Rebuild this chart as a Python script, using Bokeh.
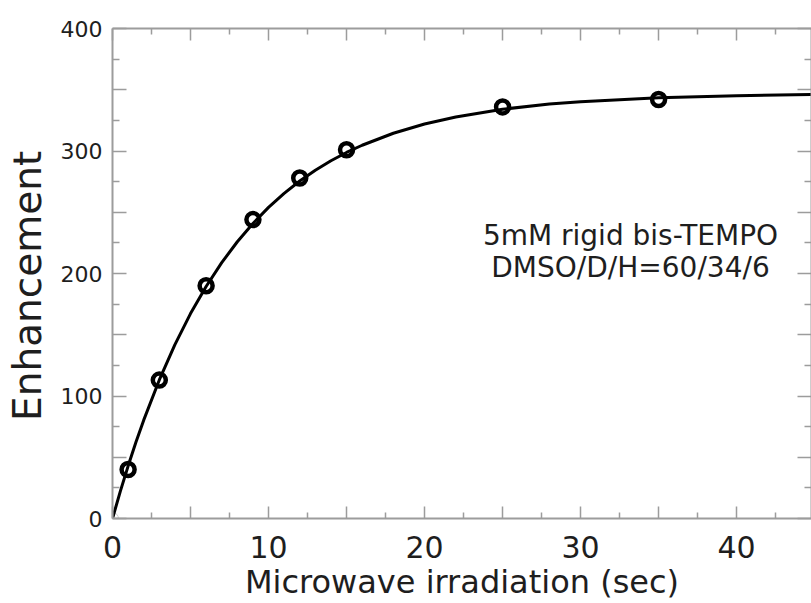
from bokeh.plotting import figure
from bokeh.models import FixedTicker, LinearAxis, Range1d, Label, CustomJSTickFormatter
from bokeh.embed import file_html
from bokeh.resources import INLINE

# Measured enhancement vs. microwave irradiation time
time_s = [1, 3, 6, 9, 12, 15, 25, 35]
enhancement = [40, 113, 190, 244, 278, 301, 336, 342]

fit_time = [0, 0.5, 1, 1.5, 2, 3, 4, 5, 6, 7, 8, 9, 10, 11, 12, 13, 14, 15,
            16, 18, 20, 22, 25, 28, 30, 35, 40, 45]
fit_enh = [0, 22.1, 42.8, 62.2, 80.3, 113.1, 141.9, 167.3, 189.4, 208.9, 225.9,
           240.8, 254.0, 265.4, 275.5, 284.3, 292.0, 298.8, 304.7, 314.5, 322.0,
           327.8, 334.1, 338.3, 340.3, 343.5, 345.2, 346.1]

x_major = [0, 5, 10, 15, 20, 25, 30, 35, 40, 45]
x_minor = [2.5, 7.5, 12.5, 17.5, 22.5, 27.5, 32.5, 37.5, 42.5]
y_major = [0, 50, 100, 150, 200, 250, 300, 350, 400]
y_minor = [25, 75, 125, 175, 225, 275, 325, 375]

sample_lines = ["5mM rigid bis-TEMPO", "DMSO/D/H=60/34/6"]

FONT = "DejaVu Sans"
TEXT = "#1e1e1e"
AXIS = "#9c9c9c"

p = figure(frame_width=699, frame_height=490, x_range=Range1d(0, 44.8), y_range=Range1d(0, 400),
           output_backend="svg", toolbar_location=None,
           min_border_left=112, min_border_top=28, min_border_right=0, min_border_bottom=85)
p.grid.visible = False
p.outline_line_color = None
p.background_fill_color = "white"
p.border_fill_color = "white"


def style(ax, ticker, long_tick, short_tick):
    ax.ticker = ticker
    ax.axis_line_color = AXIS
    ax.axis_line_width = 2
    ax.major_tick_line_color = AXIS
    ax.minor_tick_line_color = AXIS
    ax.major_tick_line_width = 1.5
    ax.minor_tick_line_width = 1.5
    ax.major_tick_in = long_tick
    ax.major_tick_out = 0
    ax.minor_tick_in = short_tick
    ax.minor_tick_out = 0


x_ticker = FixedTicker(ticks=x_major, minor_ticks=x_minor)
y_ticker = FixedTicker(ticks=y_major, minor_ticks=y_minor)

xa = p.xaxis[0]
style(xa, x_ticker, 12, 6)
xa.formatter = CustomJSTickFormatter(code="return (tick % 10 == 0) ? tick.toFixed(0) : '';")
xa.major_label_text_font = FONT
xa.major_label_text_font_size = "30px"
xa.major_label_text_color = TEXT
xa.major_label_standoff = 17
xa.axis_label = "Microwave irradiation (sec)"
xa.axis_label_text_font = FONT
xa.axis_label_text_font_size = "32px"
xa.axis_label_text_font_style = "normal"
xa.axis_label_text_color = TEXT
xa.axis_label_standoff = 2

ya = p.yaxis[0]
style(ya, y_ticker, 14, 7)
ya.formatter = CustomJSTickFormatter(code="return (tick % 100 == 0) ? tick.toFixed(0) : '';")
ya.major_label_text_font = FONT
ya.major_label_text_font_size = "22px"
ya.major_label_text_color = TEXT
ya.major_label_standoff = 10
ya.axis_label = "Enhancement\u00a0\u00a0"
ya.axis_label_text_font = FONT
ya.axis_label_text_font_size = "39px"
ya.axis_label_text_font_style = "normal"
ya.axis_label_text_color = TEXT
ya.axis_label_standoff = 8

blank = CustomJSTickFormatter(code="return '';")

top = LinearAxis()
style(top, x_ticker, 12, 6)
top.formatter = blank
top.major_label_text_font_size = "0px"
top.major_label_standoff = 0
p.add_layout(top, "above")

right = LinearAxis()
style(right, y_ticker, 14, 7)
right.formatter = blank
right.major_label_text_font_size = "0px"
right.major_label_standoff = 0
p.add_layout(right, "right")

# faint origin marker
p.scatter([0], [0], size=12, marker="circle", line_color="#d0d0d0", line_width=1,
          fill_color=None)

p.line(fit_time, fit_enh, line_color="black", line_width=3)
p.scatter(time_s, enhancement, size=13, marker="circle", line_color="black",
          line_width=4.5, fill_color=None)

for i, txt in enumerate(sample_lines):
    p.add_layout(Label(x=33.2, y=231 - 26 * i, text=txt, text_align="center",
                       text_baseline="middle", text_font=FONT,
                       text_font_size="28px", text_color=TEXT))

open("out.html", "w").write(file_html(p, INLINE))
